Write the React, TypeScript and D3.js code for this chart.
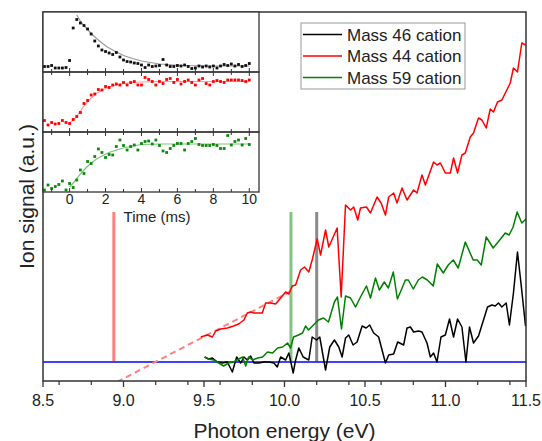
import React from "react";
import * as d3 from "d3";

// ---------- main panel data (photon energy eV, ion signal a.u.) ----------
const energyTicks = [8.5, 9.0, 9.5, 10.0, 10.5, 11.0, 11.5];

const mass44: [number, number][] = [
  [9.48, 0.25], [9.521, 0.27], [9.552, 0.25], [9.573, 0.31], [9.604, 0.33], [9.645, 0.34],
  [9.684, 0.36], [9.715, 0.38], [9.748, 0.42], [9.769, 0.49], [9.79, 0.5], [9.81, 0.49],
  [9.841, 0.49], [9.862, 0.49], [9.883, 0.59], [9.914, 0.59], [9.945, 0.58], [9.976, 0.64],
  [10.007, 0.7], [10.027, 0.68], [10.048, 0.76], [10.069, 0.77], [10.1, 0.92], [10.124, 0.95],
  [10.151, 0.9], [10.172, 1.02], [10.203, 1.23], [10.224, 1.07], [10.255, 1.32], [10.275, 1.15],
  [10.327, 1.34], [10.352, 0.65], [10.379, 1.57], [10.41, 1.52], [10.43, 1.55], [10.455, 1.42],
  [10.472, 1.54], [10.509, 1.55], [10.534, 1.49], [10.575, 1.65], [10.6, 1.59], [10.627, 1.47],
  [10.647, 1.65], [10.678, 1.69], [10.699, 1.59], [10.73, 1.74], [10.761, 1.62], [10.802, 1.72],
  [10.823, 1.69], [10.854, 1.87], [10.875, 1.77], [10.926, 2.0], [10.947, 1.97], [10.968, 1.99],
  [10.999, 1.89], [11.03, 1.89], [11.05, 2.04], [11.075, 1.89], [11.102, 2.07], [11.123, 2.09],
  [11.154, 2.25], [11.174, 2.29], [11.205, 2.44], [11.226, 2.42], [11.253, 2.34], [11.278, 2.53],
  [11.298, 2.5], [11.323, 2.6], [11.35, 2.62], [11.381, 2.72], [11.402, 2.79], [11.422, 2.94],
  [11.447, 2.9], [11.474, 3.19], [11.497, 3.17],
];

const mass46: [number, number][] = [
  [9.504, 0.05], [9.529, 0.03], [9.552, 0.04], [9.583, 0.0], [9.614, -0.01], [9.645, 0.0],
  [9.676, -0.1], [9.703, 0.05], [9.728, -0.01], [9.748, 0.05], [9.769, 0.02], [9.79, 0.06],
  [9.81, -0.01], [9.841, -0.01], [9.872, 0.0], [9.903, 0.0], [9.934, -0.01], [9.955, -0.05],
  [9.976, 0.05], [10.007, 0.02], [10.027, 0.09], [10.054, -0.11], [10.069, 0.02], [10.089, 0.14],
  [10.116, 0.05], [10.151, 0.02], [10.172, 0.25], [10.199, 0.22], [10.219, 0.25], [10.255, -0.08],
  [10.281, 0.15], [10.31, 0.22], [10.337, 0.15], [10.358, 0.05], [10.379, 0.24], [10.399, 0.27],
  [10.426, 0.17], [10.451, 0.2], [10.482, 0.36], [10.507, 0.34], [10.529, 0.37], [10.554, 0.29],
  [10.585, 0.25], [10.627, -0.01], [10.647, 0.07], [10.678, 0.08], [10.703, 0.2], [10.74, 0.17],
  [10.761, 0.34], [10.782, 0.35], [10.802, 0.3], [10.833, 0.31], [10.854, 0.3], [10.885, 0.19],
  [10.906, 0.05], [10.926, 0.09], [10.947, 0.0], [10.972, 0.25], [10.999, 0.27], [11.025, 0.43],
  [11.05, 0.25], [11.075, 0.43], [11.102, 0.35], [11.127, 0.0], [11.149, 0.35], [11.174, 0.19],
  [11.205, 0.26], [11.236, 0.42], [11.261, 0.55], [11.288, 0.57], [11.309, 0.56], [11.329, 0.59],
  [11.35, 0.55], [11.377, 0.59], [11.397, 0.37], [11.422, 0.69], [11.447, 1.1], [11.47, 0.77],
  [11.497, 0.36],
];

const mass59: [number, number][] = [
  [9.504, 0.05], [9.529, 0.03], [9.56, 0.02], [9.591, -0.01], [9.622, -0.04], [9.653, -0.01],
  [9.684, 0.0], [9.715, 0.03], [9.74, 0.05], [9.759, -0.04], [9.777, 0.05], [9.802, 0.02],
  [9.833, 0.04], [9.864, 0.05], [9.895, 0.1], [9.926, 0.09], [9.957, 0.14], [9.988, 0.15],
  [10.019, 0.19], [10.038, 0.14], [10.056, 0.25], [10.087, 0.27], [10.112, 0.29], [10.131, 0.36],
  [10.149, 0.32], [10.18, 0.37], [10.211, 0.42], [10.242, 0.44], [10.273, 0.4], [10.31, 0.6],
  [10.329, 0.65], [10.354, 0.33], [10.379, 0.66], [10.41, 0.64], [10.441, 0.55], [10.472, 0.65],
  [10.509, 0.76], [10.534, 0.64], [10.565, 0.84], [10.589, 0.72], [10.62, 0.8], [10.645, 0.74],
  [10.676, 0.9], [10.701, 0.63], [10.72, 0.7], [10.751, 0.82], [10.769, 0.82], [10.8, 0.73],
  [10.831, 0.82], [10.856, 0.85], [10.887, 0.82], [10.924, 0.76], [10.949, 0.98], [10.986, 0.89],
  [11.017, 0.97], [11.048, 1.02], [11.079, 0.94], [11.123, 1.2], [11.172, 1.02], [11.197, 1.02],
  [11.222, 0.97], [11.253, 1.25], [11.296, 1.14], [11.327, 1.2], [11.371, 1.29], [11.395, 1.27],
  [11.42, 1.35], [11.445, 1.5], [11.474, 1.39], [11.5, 1.43],
];

const baselineLevel = 0;
const mass44Extrapolation: [number, number][] = [[8.96, -0.2], [10.03, 0.7]];

const thresholdEnergies = [8.94, 10.04, 10.2];
const thresholdColors = ["rgba(255,0,0,0.5)", "rgba(0,140,0,0.5)", "rgba(60,60,60,0.6)"];
const thresholdTop = 1.5;

const legendLabels = ["Mass 46 cation", "Mass 44 cation", "Mass 59 cation"];
const legendColors = ["#000000", "#ff0000", "#008000"];

// ---------- inset data (time ms) ----------
const timeTicks = [0, 2, 4, 6, 8, 10];
const insetTimes = [
  -1.4, -1.2, -1.0, -0.8, -0.6, -0.4, -0.2, 0.0, 0.2, 0.4, 0.6, 0.8, 1.0, 1.2, 1.4, 1.6, 1.8, 2.0,
  2.2, 2.4, 2.6, 2.8, 3.0, 3.2, 3.4, 3.6, 3.8, 4.0, 4.2, 4.4, 4.6, 4.8, 5.0, 5.2, 5.4, 5.6, 5.8, 6.0,
  6.2, 6.4, 6.6, 6.8, 7.0, 7.2, 7.4, 7.6, 7.8, 8.0, 8.2, 8.4, 8.6, 8.8, 9.0, 9.2, 9.4, 9.6, 9.8, 10.0,
];
const inset46 = [
  0.11, 0.11, 0.13, 0.08, 0.08, 0.08, 0.09, 0.23, 0.88, 1.05, 0.98, 0.93, 0.86, 0.76, 0.62, 0.52,
  0.44, 0.41, 0.38, 0.35, 0.39, 0.3, 0.24, 0.21, 0.2, 0.18, 0.17, 0.14, 0.09, 0.14, 0.11, 0.12,
  0.13, 0.25, 0.14, 0.11, 0.11, 0.13, 0.12, 0.14, 0.11, 0.07, 0.08, 0.12, 0.1, 0.12, 0.1, 0.12,
  0.08, 0.12, 0.15, 0.13, 0.16, 0.12, 0.15, 0.11, 0.13, 0.17,
];
const inset44 = [
  0.23, 0.14, 0.19, 0.16, 0.17, 0.23, 0.19, 0.17, 0.25, 0.31, 0.39, 0.57, 0.63, 0.74, 0.76, 0.85,
  0.84, 0.91, 0.89, 0.94, 0.96, 0.94, 0.99, 0.94, 0.99, 1.01, 0.94, 0.94, 1.09, 1.05, 1.01, 0.94,
  1.01, 0.97, 1.05, 1.07, 0.99, 1.05, 0.96, 1.01, 1.04, 0.99, 0.94, 1.04, 1.07, 0.97, 0.94, 1.01,
  1.03, 1.01, 0.99, 1.04, 1.04, 1.04, 1.04, 1.03, 1.01, 1.04,
];
const inset59 = [
  0.04, 0.14, 0.07, 0.11, 0.15, 0.22, 0.04, 0.17, 0.09, 0.24, 0.44, 0.37, 0.61, 0.57, 0.71, 0.86,
  0.79, 0.69, 0.75, 0.74, 0.91, 1.04, 0.93, 0.84, 0.91, 0.94, 0.84, 0.97, 1.01, 1.02, 0.96, 1.04,
  0.93, 0.82, 0.79, 0.87, 0.93, 0.97, 0.97, 0.84, 0.97, 1.01, 1.07, 0.95, 0.93, 0.93, 0.93, 0.95,
  0.93, 0.87, 0.87, 1.13, 0.94, 1.01, 1.04, 0.94, 1.07, 0.95,
];
const fit46T = [0.4, 0.6, 0.8, 1.0, 1.2, 1.5, 1.8, 2.1, 2.5, 3.0, 3.5, 4.0, 4.5, 5, 6, 7, 8, 9, 10];
const fit46V = [1.14, 1.02, 0.93, 0.85, 0.77, 0.67, 0.58, 0.5, 0.42, 0.33, 0.27, 0.22, 0.19, 0.16, 0.135, 0.125, 0.12, 0.12, 0.12];
const fitRiseT = [0, 0.3, 0.6, 0.9, 1.2, 1.5, 1.8, 2.2, 2.6, 3.0, 3.5, 4, 5, 6, 8, 10];
const fit44V = [0.17, 0.27, 0.42, 0.56, 0.68, 0.77, 0.84, 0.9, 0.94, 0.97, 0.99, 1.0, 1.01, 1.01, 1.01, 1.01];
const fit59V = [0.1, 0.22, 0.36, 0.48, 0.58, 0.66, 0.72, 0.79, 0.84, 0.88, 0.92, 0.95, 0.96, 0.96, 0.96, 0.96];

const FONT = "'Liberation Sans', Arial, sans-serif";

export default function App() {
  const W = 542, H = 441;
  const L = 43, R = 526, T = 12, B = 381;

  const x = d3.scaleLinear().domain([8.5, 11.5]).range([L, R]);
  const y = d3.scaleLinear().domain([-0.19, 3.5]).range([B, T]);
  const line = d3.line<[number, number]>().x((d) => x(d[0])).y((d) => y(d[1]));

  const minorE = x.ticks(12).filter((t) => !energyTicks.some((m) => Math.abs(m - t) < 1e-6));

  const iL = L, iR = 259;
  const panels = [
    { top: 12, bottom: 72, vals: inset46, fitT: fit46T, fitV: fit46V, color: "#111", fit: "#999" },
    { top: 72, bottom: 132, vals: inset44, fitT: fitRiseT, fitV: fit44V, color: "#ff0000", fit: "#ff9a9a" },
    { top: 132, bottom: 192, vals: inset59, fitT: fitRiseT, fitV: fit59V, color: "#0a8a0a", fit: "#7cc27c" },
  ];
  const tx = d3.scaleLinear().domain([-1.48, 10.54]).range([iL, iR]);
  const allInt = d3.range(-1, 11);

  return (
    <svg width={W} height={H} style={{ position: "absolute", left: 0, top: 0, background: "#fff" }} fontFamily={FONT}>
      <defs>
        <clipPath id="plotClip">
          <rect x={L} y={T} width={R - L} height={B - T} />
        </clipPath>
      </defs>
      <rect x={0} y={0} width={W} height={H} fill="#fff" />

      <g clipPath="url(#plotClip)">
        <line x1={L} x2={R} y1={y(baselineLevel)} y2={y(baselineLevel)} stroke="#0000ff" strokeWidth={1.5} />
        {thresholdEnergies.map((e, i) => (
          <line key={i} x1={x(e)} x2={x(e)} y1={y(thresholdTop)} y2={y(0)} stroke={thresholdColors[i]} strokeWidth={3} />
        ))}
        <path d={line(mass44Extrapolation) || ""} fill="none" stroke="#ff8080" strokeWidth={2} strokeDasharray="6,4" />
        <path d={line(mass46) || ""} fill="none" stroke="#000" strokeWidth={1.5} strokeLinejoin="round" />
        <path d={line(mass59) || ""} fill="none" stroke="#008000" strokeWidth={1.5} strokeLinejoin="round" />
        <path d={line(mass44) || ""} fill="none" stroke="#ff0000" strokeWidth={1.5} strokeLinejoin="round" />
      </g>

      <rect x={L} y={T} width={R - L} height={B - T} fill="none" stroke="#333" strokeWidth={1.5} />
      {energyTicks.map((t) => (
        <g key={"M" + t}>
          <line x1={x(t)} x2={x(t)} y1={B} y2={B + 6} stroke="#333" strokeWidth={1.3} />
          <text x={x(t)} y={406} textAnchor="middle" fontSize={16} fill="#222">{t.toFixed(1)}</text>
        </g>
      ))}
      {minorE.map((t) => (
        <line key={"m" + t} x1={x(t)} x2={x(t)} y1={B} y2={B + 4} stroke="#333" strokeWidth={1.2} />
      ))}
      <text x={(L + R) / 2} y={438} textAnchor="middle" fontSize={21} fill="#222">Photon energy (eV)</text>
      <text transform={`translate(34,${(T + B) / 2}) rotate(-90)`} textAnchor="middle" fontSize={21} fill="#222">Ion signal (a.u.)</text>

      <rect x={iL} y={12} width={iR - iL} height={180} fill="#fff" />
      {panels.map((p, pi) => {
        const py = d3.scaleLinear().domain([0, 1.2]).range([p.bottom, p.top]);
        const fitPts: [number, number][] = p.fitT.map((t, i) => [tx(t), py(p.fitV[i])]);
        return (
          <g key={pi}>
            <path d={d3.line()(fitPts) || ""} fill="none" stroke={p.fit} strokeWidth={1.2} />
            {p.vals.map((v, i) => (
              <rect key={i} x={tx(insetTimes[i]) - 1.4} y={py(v) - 1.4} width={2.8} height={2.8} fill={p.color} />
            ))}
            {allInt.map((t) => (
              <g key={t}>
                <line x1={tx(t)} x2={tx(t)} y1={p.bottom} y2={p.bottom - (t % 2 === 0 ? 4 : 3)} stroke="#333" strokeWidth={1} />
                {pi > 0 && (
                  <line x1={tx(t)} x2={tx(t)} y1={p.top} y2={p.top + (t % 2 === 0 ? 4 : 3)} stroke="#333" strokeWidth={1} />
                )}
              </g>
            ))}
            <rect x={iL} y={p.top} width={iR - iL} height={p.bottom - p.top} fill="none" stroke="#333" strokeWidth={1.3} />
          </g>
        );
      })}
      {timeTicks.map((t) => (
        <text key={t} x={tx(t)} y={204} textAnchor="middle" fontSize={14} fill="#222">{t}</text>
      ))}
      <text x={157} y={222} textAnchor="middle" fontSize={15} fill="#222">Time (ms)</text>

      <rect x={301} y={23} width={164} height={66} fill="#fff" stroke="#999" strokeWidth={1} />
      {legendLabels.map((lab, i) => {
        const cy = 34.5 + i * 21.5;
        return (
          <g key={lab}>
            <line x1={303} x2={342} y1={cy} y2={cy} stroke={legendColors[i]} strokeWidth={1.5} />
            <text x={347} y={cy + 6} fontSize={17} fill="#222">{lab}</text>
          </g>
        );
      })}
    </svg>
  );
}
